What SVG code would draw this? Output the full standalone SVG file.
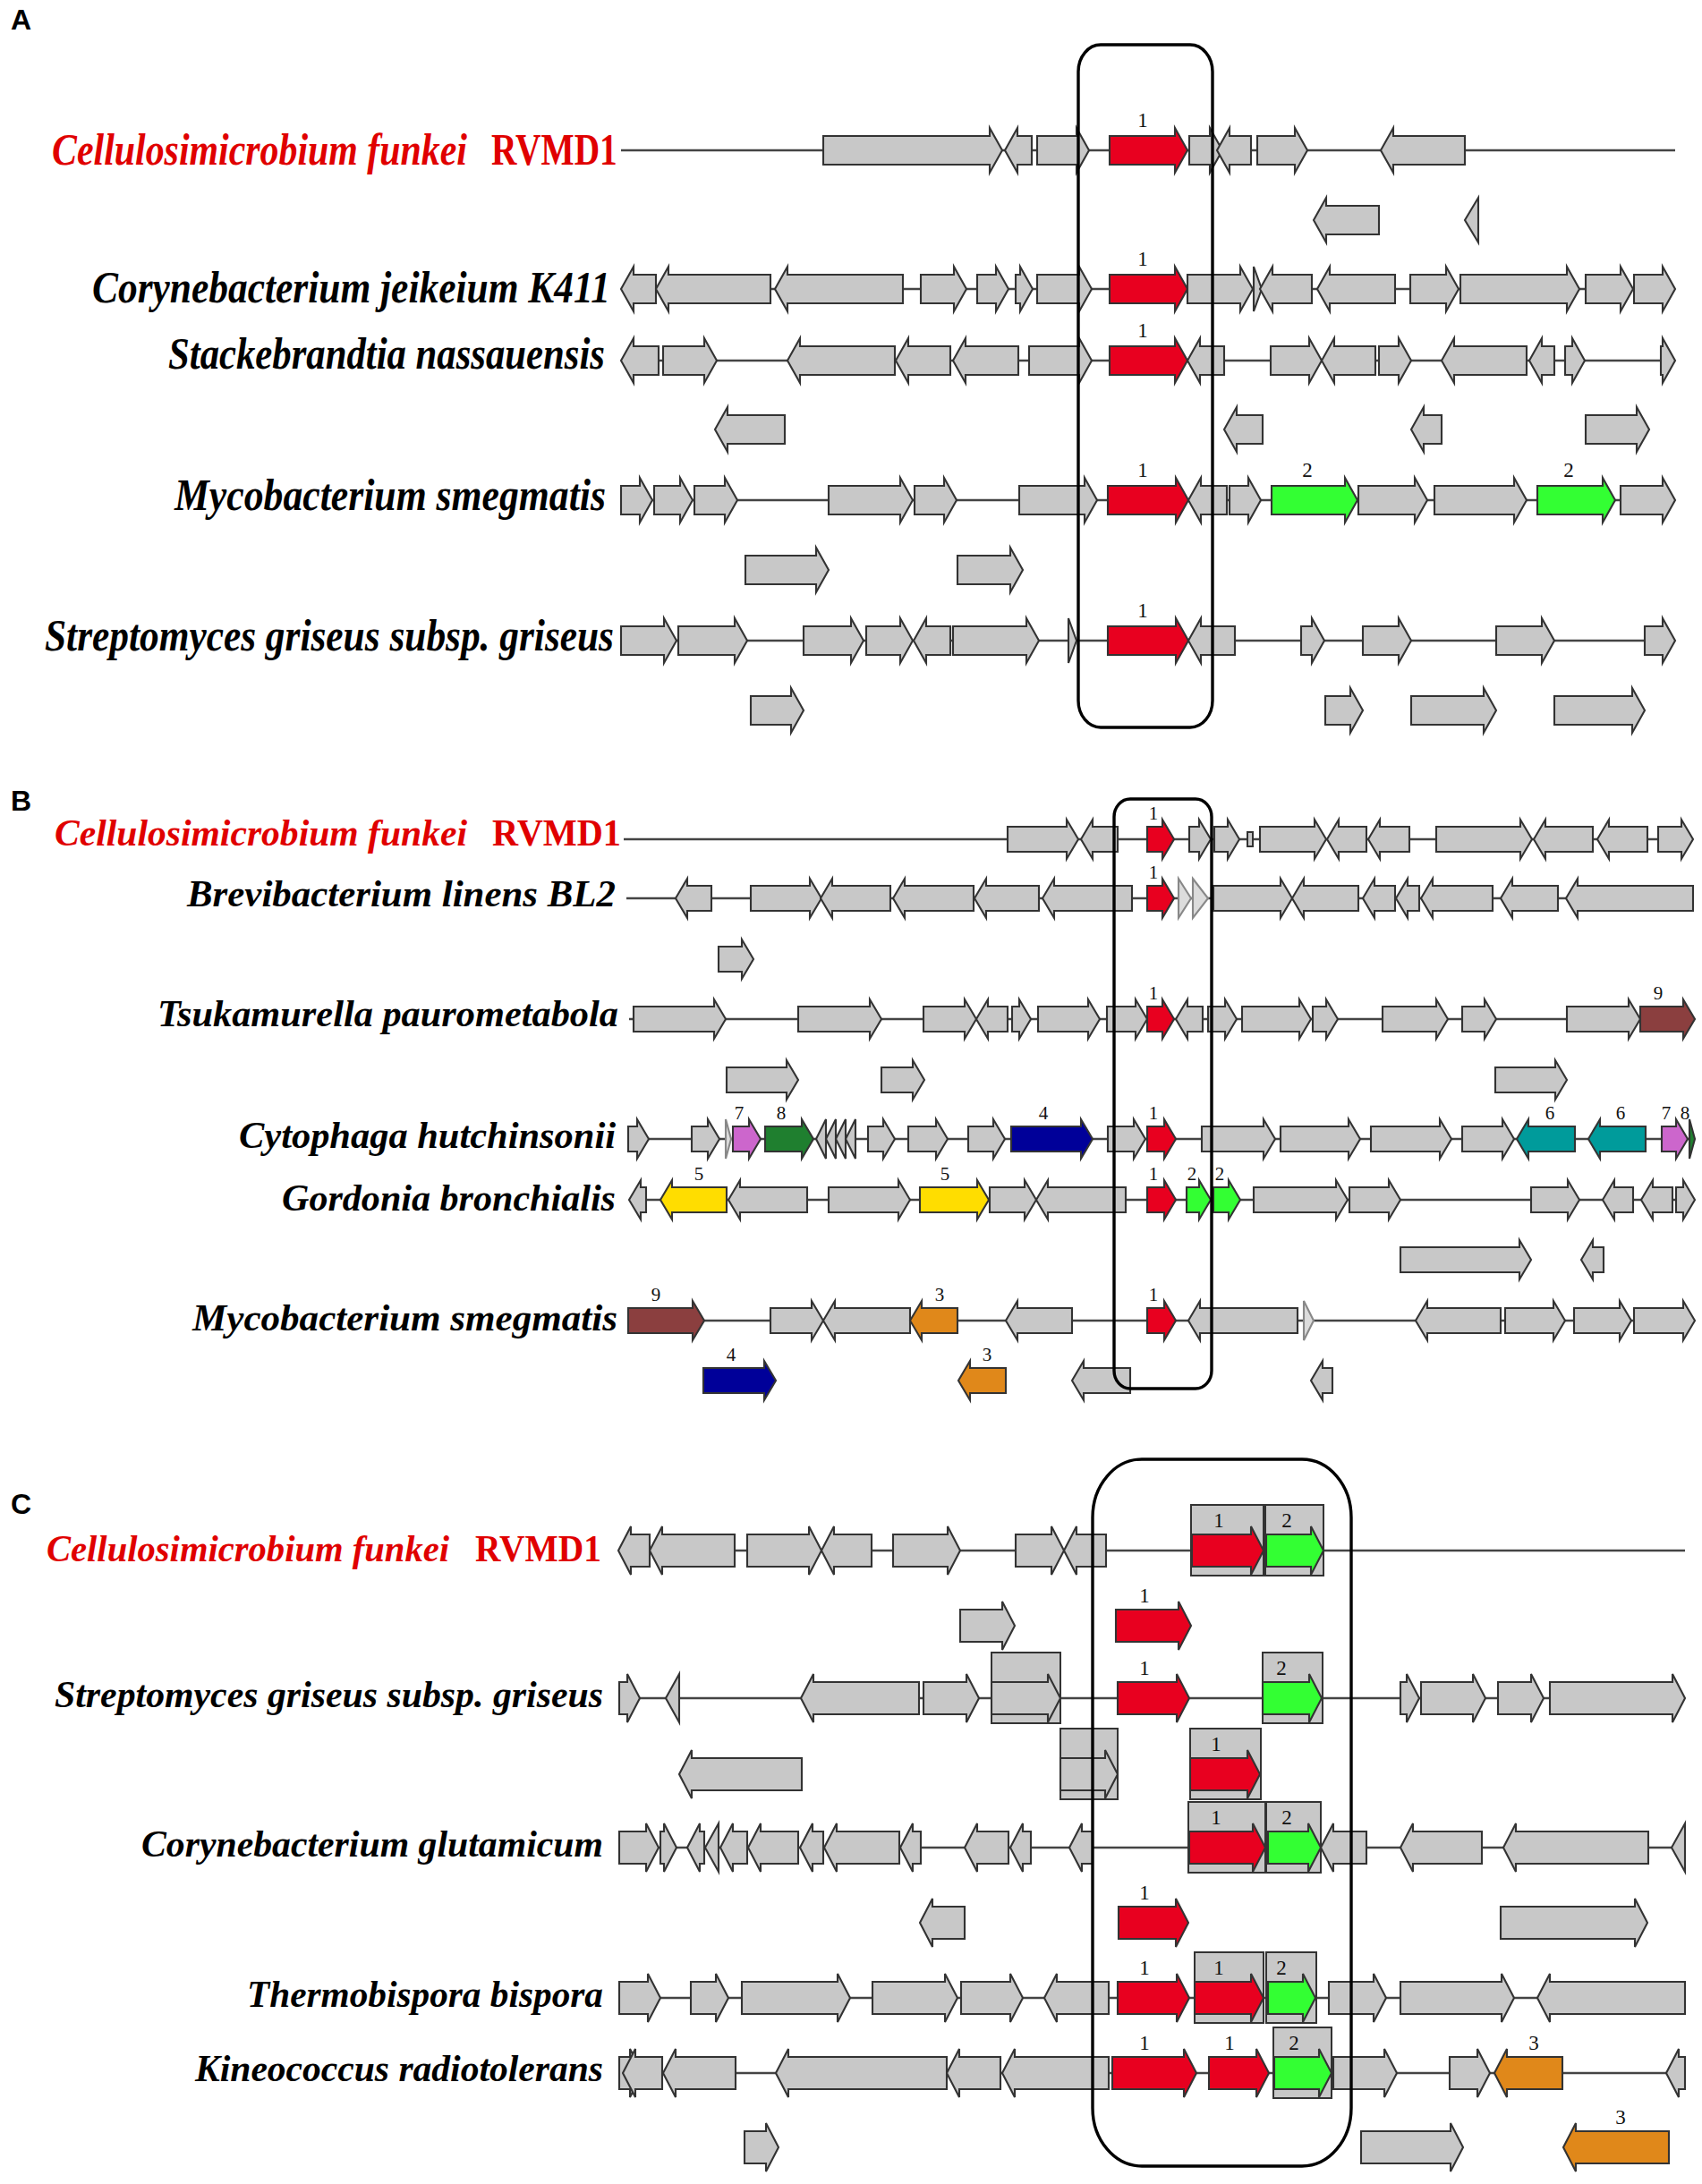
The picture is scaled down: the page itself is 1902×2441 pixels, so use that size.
<svg xmlns="http://www.w3.org/2000/svg" width="1902" height="2441" viewBox="0 0 1902 2441">
<style>
.genes path{fill:#c8c8c8;stroke:#333;stroke-width:2.1;stroke-linejoin:miter}
.genes path.r{fill:#e8001f}
.genes path.gr{fill:#33ff33}
.genes path.bl{fill:#000099}
.genes path.dg{fill:#1f7f2f}
.genes path.mg{fill:#cc66cc}
.genes path.tl{fill:#009b9b}
.genes path.yl{fill:#ffdd00}
.genes path.or{fill:#e0881a}
.genes path.br{fill:#8b3f3f}
.genes path.lt{fill:#dcdcdc;stroke:#888}
.genes rect{fill:#c8c8c8;stroke:#333;stroke-width:2}
.bb line{stroke:#444;stroke-width:2.4}
.frame{fill:none;stroke:#000;stroke-width:3.4}
.lab{font-family:"Liberation Serif","Times New Roman",serif;font-weight:bold;font-style:italic;fill:#000}
.red{fill:#e00000}
.up{font-style:normal}
.num{font-family:"Liberation Serif","Times New Roman",serif;fill:#111;text-anchor:middle}
.pl{font-family:"Liberation Sans",Arial,sans-serif;font-weight:bold;font-size:32px;fill:#000}
</style>
<rect width="1902" height="2441" fill="#fff"/>

<!-- panel letters -->
<text class="pl" x="12" y="33">A</text>
<text class="pl" x="12" y="906">B</text>
<text class="pl" x="12" y="1692">C</text>

<!-- species labels -->
<g id="labels">
<g id="labA" font-size="51">
<text class="lab red" transform="translate(58,184) scale(0.8,1)" x="0" y="0" textLength="580" lengthAdjust="spacingAndGlyphs">Cellulosimicrobium funkei</text>
<text class="lab red up" transform="translate(549,184) scale(0.8,1)" x="0" y="0" font-weight="normal" textLength="176" lengthAdjust="spacingAndGlyphs">RVMD1</text>
<text class="lab" x="103" y="338" textLength="579" lengthAdjust="spacingAndGlyphs">Corynebacterium jeikeium K411</text>
<text class="lab" x="188" y="412" textLength="488" lengthAdjust="spacingAndGlyphs">Stackebrandtia nassauensis</text>
<text class="lab" x="195" y="570" textLength="482" lengthAdjust="spacingAndGlyphs">Mycobacterium smegmatis</text>
<text class="lab" x="50" y="727" textLength="636" lengthAdjust="spacingAndGlyphs">Streptomyces griseus subsp. griseus</text>
</g>
<g id="labB" font-size="43">
<text class="lab red" x="61" y="945" textLength="461" lengthAdjust="spacingAndGlyphs">Cellulosimicrobium funkei</text>
<text class="lab red up" x="550" y="945" textLength="144" lengthAdjust="spacingAndGlyphs">RVMD1</text>
<text class="lab" x="209" y="1013" textLength="479" lengthAdjust="spacingAndGlyphs">Brevibacterium linens BL2</text>
<text class="lab" x="176" y="1147" textLength="515" lengthAdjust="spacingAndGlyphs">Tsukamurella paurometabola</text>
<text class="lab" x="267" y="1283" textLength="421" lengthAdjust="spacingAndGlyphs">Cytophaga hutchinsonii</text>
<text class="lab" x="315" y="1353" textLength="373" lengthAdjust="spacingAndGlyphs">Gordonia bronchialis</text>
<text class="lab" x="215" y="1487" textLength="475" lengthAdjust="spacingAndGlyphs">Mycobacterium smegmatis</text>
</g>
<g id="labC" font-size="43">
<text class="lab red" x="52" y="1745" textLength="450" lengthAdjust="spacingAndGlyphs">Cellulosimicrobium funkei</text>
<text class="lab red up" x="531" y="1745" textLength="141" lengthAdjust="spacingAndGlyphs">RVMD1</text>
<text class="lab" x="61" y="1908" textLength="613" lengthAdjust="spacingAndGlyphs">Streptomyces griseus subsp. griseus</text>
<text class="lab" x="158" y="2075" textLength="516" lengthAdjust="spacingAndGlyphs">Corynebacterium glutamicum</text>
<text class="lab" x="276" y="2243" textLength="398" lengthAdjust="spacingAndGlyphs">Thermobispora bispora</text>
<text class="lab" x="218" y="2326" textLength="456" lengthAdjust="spacingAndGlyphs">Kineococcus radiotolerans</text>
</g>
</g>

<!-- backbones (connectors) -->
<g id="connectors" class="bb">
<line x1="694" y1="168" x2="1872" y2="168"/>
<line x1="694" y1="323" x2="1872" y2="323"/>
<line x1="694" y1="403" x2="1872" y2="403"/>
<line x1="694" y1="559" x2="1872" y2="559"/>
<line x1="694" y1="716" x2="1872" y2="716"/>
<line x1="697" y1="938" x2="1892" y2="938"/>
<line x1="700" y1="1004" x2="1892" y2="1004"/>
<line x1="703" y1="1139" x2="1894" y2="1139"/>
<line x1="702" y1="1273" x2="1893" y2="1273"/>
<line x1="703" y1="1341" x2="1894" y2="1341"/>
<line x1="702" y1="1476" x2="1894" y2="1476"/>
<line x1="691" y1="1733" x2="1883" y2="1733"/>
<line x1="692" y1="1898" x2="1883" y2="1898"/>
<line x1="692" y1="2065" x2="1883" y2="2065"/>
<line x1="692" y1="2233" x2="1883" y2="2233"/>
<line x1="692" y1="2317" x2="1883" y2="2317"/>
</g>

<g class="genes">
<!-- PANEL A -->
<g id="A1" transform="translate(0,168)">
<path d="M920 -16h186v-9l14 25l-14 25v-9h-186z"/>
<path d="M1123 0l14 -25v9h16v32h-16v9z"/>
<path d="M1159 -16h44v-9l14 25l-14 25v-9h-44z"/>
<path class="r" d="M1240 -16h73v-9l14 25l-14 25v-9h-73z"/>
<path d="M1329 -16h23v-9l14 25l-14 25v-9h-23z"/>
<path d="M1360 0l14 -25v9h24v32h-24v9z"/>
<path d="M1405 -16h42v-9l14 25l-14 25v-9h-42z"/>
<path d="M1543 0l14 -25v9h80v32h-80v9z"/>
</g>
<g id="A1b" transform="translate(0,246)">
<path d="M1468 0l14 -25v9h59v32h-59v9z"/>
<path d="M1637 0l15 -25v50z"/>
</g>
<g id="A2" transform="translate(0,323)">
<path d="M694 0l14 -25v9h25v32h-25v9z"/>
<path d="M733 0l14 -25v9h114v32h-114v9z"/>
<path d="M866 0l14 -25v9h129v32h-129v9z"/>
<path d="M1029 -16h37v-9l14 25l-14 25v-9h-37z"/>
<path d="M1092 -16h21v-9l14 25l-14 25v-9h-21z"/>
<path d="M1135 -16h5v-9l14 25l-14 25v-9h-5z"/>
<path d="M1159 -16h47v-9l14 25l-14 25v-9h-47z"/>
<path class="r" d="M1240 -16h73v-9l14 25l-14 25v-9h-73z"/>
<path d="M1327 -16h59v-9l14 25l-14 25v-9h-59z"/>
<path d="M1401 -25l9 25l-9 25z"/>
<path d="M1408 0l14 -25v9h44v32h-44v9z"/>
<path d="M1472 0l14 -25v9h73v32h-73v9z"/>
<path d="M1576 -16h40v-9l14 25l-14 25v-9h-40z"/>
<path d="M1632 -16h119v-9l14 25l-14 25v-9h-119z"/>
<path d="M1772 -16h39v-9l14 25l-14 25v-9h-39z"/>
<path d="M1826 -16h32v-9l14 25l-14 25v-9h-32z"/>
</g>
<g id="A3" transform="translate(0,403)">
<path d="M694 0l14 -25v9h28v32h-28v9z"/>
<path d="M741 -16h46v-9l14 25l-14 25v-9h-46z"/>
<path d="M880 0l14 -25v9h106v32h-106v9z"/>
<path d="M1001 0l14 -25v9h47v32h-47v9z"/>
<path d="M1065 0l14 -25v9h59v32h-59v9z"/>
<path d="M1150 -16h56v-9l14 25l-14 25v-9h-56z"/>
<path class="r" d="M1240 -16h73v-9l14 25l-14 25v-9h-73z"/>
<path d="M1327 0l14 -25v9h27v32h-27v9z"/>
<path d="M1420 -16h43v-9l14 25l-14 25v-9h-43z"/>
<path d="M1477 0l14 -25v9h46v32h-46v9z"/>
<path d="M1541 -16h22v-9l14 25l-14 25v-9h-22z"/>
<path d="M1611 0l14 -25v9h81v32h-81v9z"/>
<path d="M1709 0l14 -25v9h14v32h-14v9z"/>
<path d="M1749 -16h8v-9l14 25l-14 25v-9h-8z"/>
<path d="M1856 -16h2v-9l14 25l-14 25v-9h-2z"/>
</g>
<g id="A3b" transform="translate(0,480)">
<path d="M799 0l14 -25v9h64v32h-64v9z"/>
<path d="M1368 0l14 -25v9h29v32h-29v9z"/>
<path d="M1577 0l14 -25v9h20v32h-20v9z"/>
<path d="M1772 -16h57v-9l14 25l-14 25v-9h-57z"/>
</g>
<g id="A4" transform="translate(0,559)">
<path d="M694 -16h21v-9l14 25l-14 25v-9h-21z"/>
<path d="M731 -16h29v-9l14 25l-14 25v-9h-29z"/>
<path d="M776 -16h34v-9l14 25l-14 25v-9h-34z"/>
<path d="M926 -16h80v-9l14 25l-14 25v-9h-80z"/>
<path d="M1022 -16h33v-9l14 25l-14 25v-9h-33z"/>
<path d="M1139 -16h73v-9l14 25l-14 25v-9h-73z"/>
<path class="r" d="M1238 -16h76v-9l14 25l-14 25v-9h-76z"/>
<path d="M1328 0l14 -25v9h29v32h-29v9z"/>
<path d="M1374 -16h21v-9l14 25l-14 25v-9h-21z"/>
<path class="gr" d="M1421 -16h82v-9l14 25l-14 25v-9h-82z"/>
<path d="M1518 -16h63v-9l14 25l-14 25v-9h-63z"/>
<path d="M1603 -16h89v-9l14 25l-14 25v-9h-89z"/>
<path class="gr" d="M1718 -16h73v-9l14 25l-14 25v-9h-73z"/>
<path d="M1811 -16h47v-9l14 25l-14 25v-9h-47z"/>
</g>
<g id="A4b" transform="translate(0,637)">
<path d="M833 -16h79v-9l14 25l-14 25v-9h-79z"/>
<path d="M1070 -16h59v-9l14 25l-14 25v-9h-59z"/>
</g>
<g id="A5" transform="translate(0,716)">
<path d="M694 -16h48v-9l14 25l-14 25v-9h-48z"/>
<path d="M758 -16h63v-9l14 25l-14 25v-9h-63z"/>
<path d="M898 -16h53v-9l14 25l-14 25v-9h-53z"/>
<path d="M968 -16h38v-9l14 25l-14 25v-9h-38z"/>
<path d="M1021 0l14 -25v9h27v32h-27v9z"/>
<path d="M1065 -16h82v-9l14 25l-14 25v-9h-82z"/>
<path d="M1194 -25l9 25l-9 25z"/>
<path class="r" d="M1238 -16h76v-9l14 25l-14 25v-9h-76z"/>
<path d="M1328 0l14 -25v9h38v32h-38v9z"/>
<path d="M1454 -16h12v-9l14 25l-14 25v-9h-12z"/>
<path d="M1523 -16h40v-9l14 25l-14 25v-9h-40z"/>
<path d="M1672 -16h51v-9l14 25l-14 25v-9h-51z"/>
<path d="M1838 -16h20v-9l14 25l-14 25v-9h-20z"/>
</g>
<g id="A5b" transform="translate(0,794)">
<path d="M839 -16h45v-9l14 25l-14 25v-9h-45z"/>
<path d="M1481 -16h28v-9l14 25l-14 25v-9h-28z"/>
<path d="M1577 -16h81v-9l14 25l-14 25v-9h-81z"/>
<path d="M1737 -16h87v-9l14 25l-14 25v-9h-87z"/>
</g>

<!-- PANEL B -->
<g id="B1" transform="translate(0,938)">
<path d="M1126 -14h66v-8l13 22l-13 22v-8h-66z"/>
<path d="M1208 0l13 -22v8h28v28h-28v8z"/>
<path class="r" d="M1282 -14h17v-8l13 22l-13 22v-8h-17z"/>
<path d="M1329 -14h11v-8l13 22l-13 22v-8h-11z"/>
<path d="M1357 -14h15v-8l13 22l-13 22v-8h-15z"/>
<rect x="1394" y="-8" width="6" height="16"/>
<path d="M1408 -14h61v-8l13 22l-13 22v-8h-61z"/>
<path d="M1483 0l13 -22v8h31v28h-31v8z"/>
<path d="M1529 0l13 -22v8h33v28h-33v8z"/>
<path d="M1605 -14h94v-8l13 22l-13 22v-8h-94z"/>
<path d="M1714 0l13 -22v8h53v28h-53v8z"/>
<path d="M1785 0l13 -22v8h43v28h-43v8z"/>
<path d="M1853 -14h26v-8l13 22l-13 22v-8h-26z"/>
</g>
<g id="B2" transform="translate(0,1004)">
<path d="M755 0l13 -22v8h27v28h-27v8z"/>
<path d="M839 -14h66v-8l13 22l-13 22v-8h-66z"/>
<path d="M917 0l13 -22v8h65v28h-65v8z"/>
<path d="M998 0l13 -22v8h77v28h-77v8z"/>
<path d="M1089 0l13 -22v8h59v28h-59v8z"/>
<path d="M1165 0l13 -22v8h87v28h-87v8z"/>
<path class="r" d="M1282 -14h17v-8l13 22l-13 22v-8h-17z"/>
<path class="lt" d="M1317 -22l14 22l-14 22z"/>
<path class="lt" d="M1333 -22l17 22l-17 22z"/>
<path d="M1356 -14h75v-8l13 22l-13 22v-8h-75z"/>
<path d="M1444 0l13 -22v8h61v28h-61v8z"/>
<path d="M1523 0l13 -22v8h23v28h-23v8z"/>
<path d="M1560 0l13 -22v8h13v28h-13v8z"/>
<path d="M1588 0l13 -22v8h67v28h-67v8z"/>
<path d="M1677 0l13 -22v8h51v28h-51v8z"/>
<path d="M1750 0l13 -22v8h129v28h-129v8z"/>
</g>
<g id="B2b" transform="translate(0,1072)">
<path d="M803 -14h26v-8l13 22l-13 22v-8h-26z"/>
</g>
<g id="B3" transform="translate(0,1139)">
<path d="M708 -14h90v-8l13 22l-13 22v-8h-90z"/>
<path d="M892 -14h80v-8l13 22l-13 22v-8h-80z"/>
<path d="M1032 -14h46v-8l13 22l-13 22v-8h-46z"/>
<path d="M1091 0l13 -22v8h22v28h-22v8z"/>
<path d="M1131 -14h8v-8l13 22l-13 22v-8h-8z"/>
<path d="M1160 -14h56v-8l13 22l-13 22v-8h-56z"/>
<path d="M1237 -14h32v-8l13 22l-13 22v-8h-32z"/>
<path class="r" d="M1282 -14h17v-8l13 22l-13 22v-8h-17z"/>
<path d="M1314 0l13 -22v8h17v28h-17v8z"/>
<path d="M1350 -14h19v-8l13 22l-13 22v-8h-19z"/>
<path d="M1388 -14h64v-8l13 22l-13 22v-8h-64z"/>
<path d="M1467 -14h15v-8l13 22l-13 22v-8h-15z"/>
<path d="M1545 -14h60v-8l13 22l-13 22v-8h-60z"/>
<path d="M1634 -14h25v-8l13 22l-13 22v-8h-25z"/>
<path d="M1751 -14h69v-8l13 22l-13 22v-8h-69z"/>
<path class="br" d="M1833 -14h48v-8l13 22l-13 22v-8h-48z"/>
</g>
<g id="B3b" transform="translate(0,1207)">
<path d="M812 -14h67v-8l13 22l-13 22v-8h-67z"/>
<path d="M985 -14h35v-8l13 22l-13 22v-8h-35z"/>
<path d="M1671 -14h67v-8l13 22l-13 22v-8h-67z"/>
</g>
<g id="B4" transform="translate(0,1273)">
<path d="M702 -14h10v-8l13 22l-13 22v-8h-10z"/>
<path d="M773 -14h18v-8l13 22l-13 22v-8h-18z"/>
<path class="lt" d="M811 -22l6 22l-6 22z"/>
<path class="mg" d="M819 -14h18v-8l13 22l-13 22v-8h-18z"/>
<path class="dg" d="M855 -14h41v-8l13 22l-13 22v-8h-41z"/>
<path d="M912 0l11 -22v44z"/>
<path d="M923 0l11 -22v44z"/>
<path d="M934 0l11 -22v44z"/>
<path d="M945 0l11 -22v44z"/>
<path d="M970 -14h17v-8l13 22l-13 22v-8h-17z"/>
<path d="M1015 -14h31v-8l13 22l-13 22v-8h-31z"/>
<path d="M1082 -14h28v-8l13 22l-13 22v-8h-28z"/>
<path class="bl" d="M1130 -14h78v-8l13 22l-13 22v-8h-78z"/>
<path d="M1238 -14h29v-8l13 22l-13 22v-8h-29z"/>
<path class="r" d="M1282 -14h19v-8l13 22l-13 22v-8h-19z"/>
<path d="M1343 -14h69v-8l13 22l-13 22v-8h-69z"/>
<path d="M1431 -14h76v-8l13 22l-13 22v-8h-76z"/>
<path d="M1532 -14h77v-8l13 22l-13 22v-8h-77z"/>
<path d="M1634 -14h45v-8l13 22l-13 22v-8h-45z"/>
<path class="tl" d="M1695 0l13 -22v8h52v28h-52v8z"/>
<path class="tl" d="M1775 0l13 -22v8h51v28h-51v8z"/>
<path class="mg" d="M1857 -14h16v-8l13 22l-13 22v-8h-16z"/>
<path class="dg" d="M1888 -22l6 22l-6 22z"/>
</g>
<g id="B5" transform="translate(0,1341)">
<path d="M703 0l13 -22v8h6v28h-6v8z"/>
<path class="yl" d="M738 0l13 -22v8h61v28h-61v8z"/>
<path d="M814 0l13 -22v8h75v28h-75v8z"/>
<path d="M926 -14h78v-8l13 22l-13 22v-8h-78z"/>
<path class="yl" d="M1028 -14h64v-8l13 22l-13 22v-8h-64z"/>
<path d="M1106 -14h39v-8l13 22l-13 22v-8h-39z"/>
<path d="M1158 0l13 -22v8h87v28h-87v8z"/>
<path class="r" d="M1282 -14h19v-8l13 22l-13 22v-8h-19z"/>
<path class="gr" d="M1326 -14h14v-8l13 22l-13 22v-8h-14z"/>
<path class="gr" d="M1356 -14h17v-8l13 22l-13 22v-8h-17z"/>
<path d="M1401 -14h92v-8l13 22l-13 22v-8h-92z"/>
<path d="M1508 -14h44v-8l13 22l-13 22v-8h-44z"/>
<path d="M1711 -14h41v-8l13 22l-13 22v-8h-41z"/>
<path d="M1791 0l13 -22v8h21v28h-21v8z"/>
<path d="M1834 0l13 -22v8h22v28h-22v8z"/>
<path d="M1873 -14h8v-8l13 22l-13 22v-8h-8z"/>
</g>
<g id="B5b" transform="translate(0,1408)">
<path d="M1565 -14h133v-8l13 22l-13 22v-8h-133z"/>
<path d="M1767 0l13 -22v8h12v28h-12v8z"/>
</g>
<g id="B6" transform="translate(0,1476)">
<path class="br" d="M702 -14h72v-8l13 22l-13 22v-8h-72z"/>
<path d="M861 -14h46v-8l13 22l-13 22v-8h-46z"/>
<path d="M920 0l13 -22v8h84v28h-84v8z"/>
<path class="or" d="M1017 0l13 -22v8h40v28h-40v8z"/>
<path d="M1124 0l13 -22v8h61v28h-61v8z"/>
<path class="r" d="M1282 -14h19v-8l13 22l-13 22v-8h-19z"/>
<path d="M1328 0l13 -22v8h109v28h-109v8z"/>
<path class="lt" d="M1457 -22l11 22l-11 22z"/>
<path d="M1582 0l13 -22v8h82v28h-82v8z"/>
<path d="M1682 -14h54v-8l13 22l-13 22v-8h-54z"/>
<path d="M1759 -14h51v-8l13 22l-13 22v-8h-51z"/>
<path d="M1826 -14h55v-8l13 22l-13 22v-8h-55z"/>
</g>
<g id="B6b" transform="translate(0,1543)">
<path class="bl" d="M786 -14h68v-8l13 22l-13 22v-8h-68z"/>
<path class="or" d="M1071 0l13 -22v8h40v28h-40v8z"/>
<path d="M1198 0l13 -22v8h52v28h-52v8z"/>
<path d="M1465 0l13 -22v8h11v28h-11v8z"/>
</g>

<!-- PANEL C -->
<g id="C1" transform="translate(0,1733)">
<path d="M691 0l14 -27v9h21v36h-21v9z"/>
<path d="M726 0l14 -27v9h81v36h-81v9z"/>
<path d="M835 -18h69v-9l14 27l-14 27v-9h-69z"/>
<path d="M918 0l14 -27v9h42v36h-42v9z"/>
<path d="M998 -18h61v-9l14 27l-14 27v-9h-61z"/>
<path d="M1135 -18h40v-9l14 27l-14 27v-9h-40z"/>
<path d="M1189 0l14 -27v9h33v36h-33v9z"/>
<rect x="1331" y="-51" width="81" height="79"/>
<path class="r" d="M1332 -18h66v-9l14 27l-14 27v-9h-66z"/>
<rect x="1414" y="-51" width="65" height="79"/>
<path class="gr" d="M1415 -18h50v-9l14 27l-14 27v-9h-50z"/>
</g>
<g id="C1b" transform="translate(0,1817)">
<path d="M1073 -18h47v-9l14 27l-14 27v-9h-47z"/>
<path class="r" d="M1247 -18h70v-9l14 27l-14 27v-9h-70z"/>
</g>
<g id="C2" transform="translate(0,1898)">
<path d="M692 -18h9v-9l14 27l-14 27v-9h-9z"/>
<path d="M744 0l15 -27v54z"/>
<path d="M895 0l14 -27v9h118v36h-118v9z"/>
<path d="M1032 -18h48v-9l14 27l-14 27v-9h-48z"/>
<rect x="1108" y="-51" width="77" height="79"/>
<path d="M1108 -18h63v-9l14 27l-14 27v-9h-63z"/>
<path class="r" d="M1249 -18h66v-9l14 27l-14 27v-9h-66z"/>
<rect x="1411" y="-51" width="67" height="79"/>
<path class="gr" d="M1411 -18h52v-9l14 27l-14 27v-9h-52z"/>
<path d="M1565 -18h7v-9l14 27l-14 27v-9h-7z"/>
<path d="M1588 -18h58v-9l14 27l-14 27v-9h-58z"/>
<path d="M1674 -18h37v-9l14 27l-14 27v-9h-37z"/>
<path d="M1732 -18h137v-9l14 27l-14 27v-9h-137z"/>
</g>
<g id="C2b" transform="translate(0,1983)">
<path d="M759 0l14 -27v9h123v36h-123v9z"/>
<rect x="1185" y="-51" width="64" height="79"/>
<path d="M1185 -18h50v-9l14 27l-14 27v-9h-50z"/>
<rect x="1330" y="-51" width="79" height="79"/>
<path class="r" d="M1330 -18h64v-9l14 27l-14 27v-9h-64z"/>
</g>
<g id="C3" transform="translate(0,2065)">
<path d="M692 -18h30v-9l14 27l-14 27v-9h-30z"/>
<path d="M738 -18h4v-9l14 27l-14 27v-9h-4z"/>
<path d="M768 0l14 -27v9h5v36h-5v9z"/>
<path d="M788 0l15 -27v54z"/>
<path d="M805 0l14 -27v9h16v36h-16v9z"/>
<path d="M836 0l14 -27v9h42v36h-42v9z"/>
<path d="M894 0l14 -27v9h12v36h-12v9z"/>
<path d="M921 0l14 -27v9h70v36h-70v9z"/>
<path d="M1006 0l14 -27v9h9v36h-9v9z"/>
<path d="M1078 0l14 -27v9h35v36h-35v9z"/>
<path d="M1129 0l14 -27v9h9v36h-9v9z"/>
<path d="M1195 0l14 -27v9h12v36h-12v9z"/>
<rect x="1328" y="-51" width="86" height="79"/>
<path class="r" d="M1329 -18h71v-9l14 27l-14 27v-9h-71z"/>
<rect x="1415" y="-51" width="61" height="79"/>
<path class="gr" d="M1417 -18h45v-9l14 27l-14 27v-9h-45z"/>
<path d="M1476 0l14 -27v9h37v36h-37v9z"/>
<path d="M1565 0l14 -27v9h77v36h-77v9z"/>
<path d="M1680 0l14 -27v9h148v36h-148v9z"/>
<path d="M1868 0l15 -27v54z"/>
</g>
<g id="C3b" transform="translate(0,2149)">
<path d="M1028 0l14 -27v9h36v36h-36v9z"/>
<path class="r" d="M1250 -18h64v-9l14 27l-14 27v-9h-64z"/>
<path d="M1677 -18h150v-9l14 27l-14 27v-9h-150z"/>
</g>
<g id="C4" transform="translate(0,2233)">
<path d="M692 -18h32v-9l14 27l-14 27v-9h-32z"/>
<path d="M772 -18h28v-9l14 27l-14 27v-9h-28z"/>
<path d="M829 -18h107v-9l14 27l-14 27v-9h-107z"/>
<path d="M975 -18h81v-9l14 27l-14 27v-9h-81z"/>
<path d="M1074 -18h55v-9l14 27l-14 27v-9h-55z"/>
<path d="M1167 0l14 -27v9h58v36h-58v9z"/>
<path class="r" d="M1249 -18h66v-9l14 27l-14 27v-9h-66z"/>
<rect x="1335" y="-51" width="77" height="79"/>
<path class="r" d="M1335 -18h63v-9l14 27l-14 27v-9h-63z"/>
<rect x="1415" y="-51" width="56" height="79"/>
<path class="gr" d="M1417 -18h39v-9l14 27l-14 27v-9h-39z"/>
<path d="M1485 -18h50v-9l14 27l-14 27v-9h-50z"/>
<path d="M1565 -18h113v-9l14 27l-14 27v-9h-113z"/>
<path d="M1718 0l14 -27v9h151v36h-151v9z"/>
</g>
<g id="C5" transform="translate(0,2317)">
<path d="M692 -18h12v-9l14 27l-14 27v-9h-12z"/>
<path d="M696 0l14 -27v9h30v36h-30v9z"/>
<path d="M741 0l14 -27v9h67v36h-67v9z"/>
<path d="M867 0l14 -27v9h177v36h-177v9z"/>
<path d="M1058 0l14 -27v9h46v36h-46v9z"/>
<path d="M1120 0l14 -27v9h105v36h-105v9z"/>
<path class="r" d="M1243 -18h80v-9l14 27l-14 27v-9h-80z"/>
<path class="r" d="M1351 -18h53v-9l14 27l-14 27v-9h-53z"/>
<rect x="1423" y="-51" width="65" height="79"/>
<path class="gr" d="M1424 -18h50v-9l14 27l-14 27v-9h-50z"/>
<path d="M1490 -18h57v-9l14 27l-14 27v-9h-57z"/>
<path d="M1620 -18h31v-9l14 27l-14 27v-9h-31z"/>
<path class="or" d="M1670 0l14 -27v9h62v36h-62v9z"/>
<path d="M1862 0l14 -27v9h7v36h-7v9z"/>
</g>
<g id="C5b" transform="translate(0,2400)">
<path d="M832 -18h24v-9l14 27l-14 27v-9h-24z"/>
<path d="M1521 -18h100v-9l14 27l-14 27v-9h-100z"/>
<path class="or" d="M1747 0l14 -27v9h104v36h-104v9z"/>
</g>
</g>

<!-- cluster numbers -->
<g id="numbers" class="num">
<g font-size="23">
<text x="1277" y="142">1</text>
<text x="1277" y="297">1</text>
<text x="1277" y="377">1</text>
<text x="1277" y="533">1</text>
<text x="1461" y="533">2</text>
<text x="1753" y="533">2</text>
<text x="1277" y="690">1</text>
</g>
<g font-size="21">
<text x="1289" y="916">1</text>
<text x="1289" y="982">1</text>
<text x="1289" y="1117">1</text>
<text x="1853" y="1117">9</text>
<text x="826" y="1251">7</text>
<text x="873" y="1251">8</text>
<text x="1166" y="1251">4</text>
<text x="1289" y="1251">1</text>
<text x="1732" y="1251">6</text>
<text x="1811" y="1251">6</text>
<text x="1862" y="1251">7</text>
<text x="1883" y="1251">8</text>
<text x="781" y="1319">5</text>
<text x="1056" y="1319">5</text>
<text x="1289" y="1319">1</text>
<text x="1332" y="1319">2</text>
<text x="1363" y="1319">2</text>
<text x="733" y="1454">9</text>
<text x="1050" y="1454">3</text>
<text x="1289" y="1454">1</text>
<text x="817" y="1521">4</text>
<text x="1103" y="1521">3</text>
</g>
<g font-size="23">
<text x="1362" y="1707">1</text>
<text x="1438" y="1707">2</text>
<text x="1279" y="1791">1</text>
<text x="1279" y="1872">1</text>
<text x="1432" y="1872">2</text>
<text x="1359" y="1957">1</text>
<text x="1359" y="2039">1</text>
<text x="1438" y="2039">2</text>
<text x="1279" y="2123">1</text>
<text x="1279" y="2207">1</text>
<text x="1362" y="2207">1</text>
<text x="1432" y="2207">2</text>
<text x="1279" y="2291">1</text>
<text x="1374" y="2291">1</text>
<text x="1446" y="2291">2</text>
<text x="1714" y="2291">3</text>
<text x="1811" y="2374">3</text>
</g>
</g>

<!-- highlight frames -->
<g id="frames">
<rect id="frameA" class="frame" x="1205" y="50" width="150" height="763" rx="25" ry="30"/>
<rect id="frameB" class="frame" x="1245" y="893" width="109" height="659" rx="18" ry="20"/>
<rect id="frameC" class="frame" x="1221" y="1631" width="289" height="790" rx="55" ry="65"/>
</g>
</svg>
